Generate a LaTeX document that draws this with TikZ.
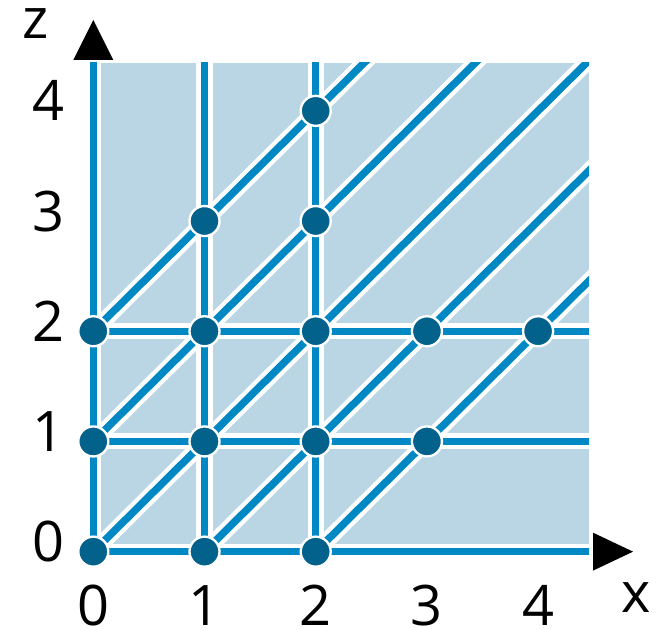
\documentclass[tikz,border=0pt]{standalone}
\usepackage{fontspec}
\setmainfont{Open Sans}
\usepackage{tikz}
\usetikzlibrary{positioning,backgrounds}
\definecolor{cellfill}{HTML}{BAD6E5}
\definecolor{edgeblue}{HTML}{0088C4}
\definecolor{dotblue}{HTML}{02628C}
\tikzset{
  lat/.style     ={circle, inner sep=0pt, minimum size=2.7mm, fill=dotblue,
                   draw=white, line width=0.6pt},
  % every link is a white rim with a blue core on top
  rim/.style     ={draw=white, line width=4.1pt},
  wire/.style    ={draw=edgeblue, line width=1.9pt},
  ticklab/.style ={font=\fontsize{14.3}{16}\selectfont, inner sep=0pt},
}
\def\latlist{0/0, 1/0, 2/0, 0/1, 1/1, 2/1, 3/1, 0/2, 1/2, 2/2, 3/2, 4/2,
             1/3, 2/3, 2/4}
\def\xmax{4.458}
\def\zmax{4.437}
% free ends lie outside the shaded box and get clipped
\def\endlist{t0/0/4.8, t1/1/4.8, t2/2/4.8, r0/4.8/0, r1/4.8/1, r2/4.8/2,
             g0/2.8/4.8, g1/3.8/4.8, g2/4.8/4.8, g3/4.8/3.8, g4/4.8/2.8}
\def\linklist{n00/t0, n10/t1, n20/t2, n00/r0, n01/r1, n02/r2,
              n02/g0, n01/g1, n00/g2, n10/g3, n20/g4}
\begin{document}
\begin{tikzpicture}[x=1cm,y=0.991cm]
\useasboundingbox (-0.839,-0.7105) rectangle (5.078,5.006);
\foreach \x/\z in \latlist
  {\node[lat] (n\x\z) at (\x,\z) {};}
\foreach \n/\x/\z in \endlist
  {\coordinate (\n) at (\x,\z);}
\begin{scope}[on background layer]
  \fill[cellfill] (0,0) rectangle (\xmax,\zmax);
  \clip (-0.3,-0.3) rectangle (\xmax,\zmax);
  \foreach \a/\b in \linklist {\draw[rim] (\a.center) -- (\b);}
  \foreach \a/\b in \linklist {\draw[wire] (\a.center) -- (\b);}
\end{scope}
\fill (-0.18,4.462) -- (0.18,4.462) -- (0,4.825) -- cycle;
\fill (4.494,-0.172) -- (4.494,0.172) -- (4.854,0) -- cycle;
\foreach \i in {0,...,4}{
  \node[ticklab] (xl\i) at (\i,-0.485) {\i};
  \node[ticklab] (zl\i) at (-0.40,\i+0.09) {\i};
}
\node[ticklab] (xname) at (4.88,-0.42) {x};
\node[ticklab] (zname) at (-0.515,4.795) {z};
\end{tikzpicture}
\end{document}
